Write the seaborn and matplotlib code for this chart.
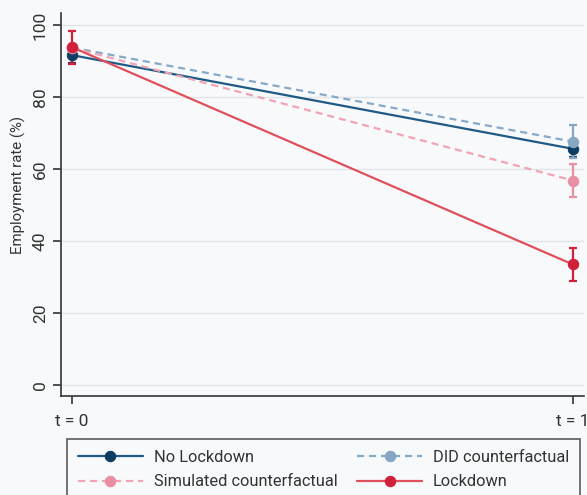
import matplotlib
matplotlib.use("Agg")
import matplotlib.pyplot as plt
import seaborn as sns
import pandas as pd
import numpy as np

periods = [0, 1]
period_labels = ["t = 0", "t = 1"]
series_names = ["No Lockdown", "DID counterfactual", "Simulated counterfactual", "Lockdown"]
no_lockdown = [91.6, 65.6]
no_lockdown_ci = [2.3, 2.2]
did_cf = [93.7, 67.6]
did_cf_ci = [0.0, 4.6]
sim_cf = [93.7, 56.8]
sim_cf_ci = [0.0, 4.7]
lockdown = [93.8, 33.5]
lockdown_ci = [4.6, 4.7]

sns.set_theme(style="white")
plt.rcParams['font.family'] = ['Roboto', 'DejaVu Sans']

bg = "#f8f9fb"
txt = "#333333"
fig = plt.figure(figsize=(5.87, 4.95), dpi=100, facecolor=bg)
ax = fig.add_axes([61/587, 1-396/495, (584-61)/587, (396-13)/495])
ax.set_facecolor(bg)

styles = {
    "No Lockdown": dict(line="#1f5a85", marker="#0e3d63", ls="-", vals=no_lockdown, ci=no_lockdown_ci),
    "DID counterfactual": dict(line="#86a9c8", marker="#86a6c4", ls="--", vals=did_cf, ci=did_cf_ci),
    "Simulated counterfactual": dict(line="#f2a3b4", marker="#e98ea3", ls="--", vals=sim_cf, ci=sim_cf_ci),
    "Lockdown": dict(line="#e0505c", marker="#d0203a", ls="-", vals=lockdown, ci=lockdown_ci),
}

rows = []
for name in series_names:
    for p, v in zip(periods, styles[name]["vals"]):
        rows.append({"period": p, "rate": v, "series": name})
df = pd.DataFrame(rows)

for name in series_names:
    st = styles[name]
    sub = df[df.series == name]
    ci = np.array(st["ci"])
    mask = ci > 0
    ax.errorbar(np.array(periods)[mask], np.array(st["vals"])[mask], yerr=ci[mask],
                fmt="none", ecolor=st["marker"], elinewidth=1.6, capsize=3.2, capthick=1.6, zorder=2)
    kw = dict(dashes=(3.2, 2.2)) if st["ls"] == "--" else {}
    sns.lineplot(data=sub, x="period", y="rate", ax=ax, color=st["line"],
                 linewidth=1.6, marker="o", markersize=7.5,
                 markerfacecolor=st["marker"], markeredgecolor=st["marker"],
                 label=name, zorder=3, **kw)

ax.set_xlim(-0.022, 1.022)
ax.set_ylim(-3, 103.3)
ax.set_yticks([0, 20, 40, 60, 80, 100])
ax.set_yticklabels(["0", "20", "40", "60", "80", "100"], rotation=90, va="center", fontsize=12.5, color=txt)
ax.set_xticks(periods)
ax.set_xticklabels(period_labels, fontsize=12.5, color=txt)
ax.set_xlabel("")
ax.set_ylabel("Employment rate (%)", fontsize=10.8, color=txt, labelpad=4)
ax.yaxis.set_label_coords(-0.066, 0.55)
ax.grid(axis="y", color="#e2e4e8", linewidth=1)
ax.set_axisbelow(True)
for s in ["top", "right"]:
    ax.spines[s].set_visible(False)
for s in ["left", "bottom"]:
    ax.spines[s].set_color(txt)
    ax.spines[s].set_linewidth(1.2)
ax.tick_params(axis="both", direction="out", length=6, width=1.2, color=txt, left=True, bottom=True)
ax.tick_params(axis="x", pad=7)

if ax.get_legend():
    ax.get_legend().remove()
handles, labels = ax.get_legend_handles_labels()
hmap = dict(zip(labels, handles))
leg_order = ["No Lockdown", "Simulated counterfactual", "DID counterfactual", "Lockdown"]
leg = fig.legend([hmap[l] for l in leg_order], leg_order, ncol=2,
                 loc="upper left", bbox_to_anchor=(67/587, 1-439/495, (580-67)/587, 0.0),
                 mode="expand", borderaxespad=0, fontsize=11.8, frameon=True, fancybox=False,
                 edgecolor=txt, facecolor=bg, handlelength=4.0, borderpad=0.65,
                 labelspacing=0.6, handletextpad=0.65, columnspacing=2)
leg.get_frame().set_linewidth(1.2)
for t in leg.get_texts():
    t.set_color(txt)

fig.savefig("out.png", dpi=100, facecolor=bg)
